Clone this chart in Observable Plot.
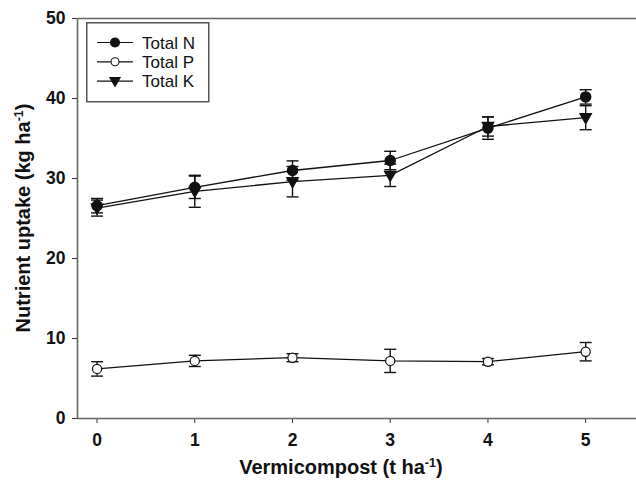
<!DOCTYPE html>
<html>
<head>
<meta charset="utf-8">
<script src="https://cdn.jsdelivr.net/npm/d3@7"></script>
<script src="https://cdn.jsdelivr.net/npm/@observablehq/plot@0.6"></script>
<style>
  html, body { margin: 0; padding: 0; background: #fff; }
  #wrap { position: relative; width: 636px; height: 480px; }
  #wrap svg text { font-family: "Liberation Sans", Arial, Helvetica, sans-serif; }
  g[aria-label$="tick label"] text { font-weight: bold; }
  #legend { position: absolute; left: 86px; top: 22px; }
</style>
</head>
<body>
<div id="wrap"></div>
<script>
// ---- data ----
const doses = [0, 1, 2, 3, 4, 5];
const nMean = [26.6, 28.9, 31.0, 32.25, 36.3, 40.2];
const nErr  = [0.9, 1.4, 1.2, 1.15, 1.4, 0.9];
const pMean = [6.2, 7.2, 7.6, 7.2, 7.1, 8.35];
const pErr  = [0.9, 0.7, 0.5, 1.45, 0.4, 1.15];
const kMean = [26.3, 28.4, 29.6, 30.4, 36.5, 37.6];
const kErr  = [1.0, 2.0, 1.9, 1.4, 1.2, 1.5];
const seriesNames = ["Total N", "Total P", "Total K"];
const xTicks = [0, 1, 2, 3, 4, 5];
const yTicks = [0, 10, 20, 30, 40, 50];
const xDomain = [-0.2, 5.52];
const yDomain = [0, 50];

// ---- build table ----
const means = [nMean, pMean, kMean];
const errs = [nErr, pErr, kErr];
const rows = [];
seriesNames.forEach((s, i) => doses.forEach((d, j) => rows.push({
  series: s, x: d, y: means[i][j], lo: means[i][j] - errs[i][j], hi: means[i][j] + errs[i][j]
})));
const bySeries = s => rows.filter(r => r.series === s);

// custom symbols
const triDown = { draw(ctx, size) { const s = Math.sqrt(size / Math.PI);
  ctx.moveTo(-s * 1.2, -s * 0.85); ctx.lineTo(s * 1.2, -s * 0.85); ctx.lineTo(0, s * 1.25); ctx.closePath(); } };
const capSym = { draw(ctx, size) { const s = Math.sqrt(size / Math.PI);
  ctx.moveTo(-s, 0); ctx.lineTo(s, 0); } };

const ink = "#111";
const plot = Plot.plot({
  width: 636, height: 480,
  marginLeft: 77, marginRight: 0, marginTop: 18, marginBottom: 62,
  style: { fontFamily: "Liberation Sans, Arial, sans-serif", fontSize: "17px", color: "#111", background: "#fff" },
  x: { domain: xDomain, label: null },
  y: { domain: yDomain, label: null },
  marks: [
    Plot.axisX({ ticks: xTicks, tickSize: 5, tickPadding: 10.5, tickFormat: d => d, stroke: "#333", fontSize: 17.5 }),
    Plot.axisY({ ticks: yTicks, tickSize: 5, tickPadding: 7, tickFormat: d => d, stroke: "#333", fontSize: 17.5 }),
    Plot.ruleY([yDomain[0], yDomain[1]], { stroke: "#666", strokeWidth: 1.6 }),
    Plot.ruleX([xDomain[0]], { stroke: "#666", strokeWidth: 1.6 }),
    // error bars
    Plot.ruleX(rows, { x: "x", y1: "lo", y2: "hi", stroke: ink, strokeWidth: 1.4 }),
    Plot.dot(rows, { x: "x", y: "lo", symbol: capSym, r: 6, stroke: ink, fill: "none", strokeWidth: 1.4 }),
    Plot.dot(rows, { x: "x", y: "hi", symbol: capSym, r: 6, stroke: ink, fill: "none", strokeWidth: 1.4 }),
    // lines
    Plot.line(bySeries("Total N"), { x: "x", y: "y", stroke: ink, strokeWidth: 1.3 }),
    Plot.line(bySeries("Total K"), { x: "x", y: "y", stroke: ink, strokeWidth: 1.3 }),
    Plot.line(bySeries("Total P"), { x: "x", y: "y", stroke: ink, strokeWidth: 1.3 }),
    // markers
    Plot.dot(bySeries("Total N"), { x: "x", y: "y", r: 5, fill: ink, stroke: ink }),
    Plot.dot(bySeries("Total K"), { x: "x", y: "y", r: 4.6, symbol: triDown, fill: ink, stroke: ink }),
    Plot.dot(bySeries("Total P"), { x: "x", y: "y", r: 4.6, fill: "#fff", stroke: ink, strokeWidth: 1.2 })
  ]
});

// axis titles with superscripts
const svg = d3.select(plot);
const sx = plot.scale("x"), sy = plot.scale("y");
const xt = svg.append("text")
  .attr("x", sx.apply(2.5)).attr("y", 474)
  .attr("text-anchor", "middle").attr("font-weight", "bold").attr("font-size", 20).attr("fill", "#111");
xt.append("tspan").text("Vermicompost (t ha");
xt.append("tspan").attr("font-size", 12.5).attr("dy", -7.5).text("-1");
xt.append("tspan").attr("dy", 7.5).text(")");

const yt = svg.append("text")
  .attr("transform", `translate(30,${sy.apply(25)}) rotate(-90)`)
  .attr("text-anchor", "middle").attr("font-weight", "bold").attr("font-size", 20).attr("fill", "#111");
yt.append("tspan").text("Nutrient uptake (kg ha");
yt.append("tspan").attr("font-size", 12.5).attr("dy", -7.5).text("-1");
yt.append("tspan").attr("dy", 7.5).text(")");

document.getElementById("wrap").appendChild(plot);

// legend (overlay)
const leg = d3.select("#wrap").append("svg").attr("id", "legend")
  .attr("width", 124).attr("height", 81);
leg.append("rect").attr("x", 0.75).attr("y", 0.75).attr("width", 122).attr("height", 79)
  .attr("fill", "#fff").attr("stroke", "#555").attr("stroke-width", 1.5);
const symPaths = {
  "Total N": d3.symbol(d3.symbolCircle, Math.PI * 4.5 * 4.5)(),
  "Total P": d3.symbol(d3.symbolCircle, Math.PI * 4 * 4)(),
  "Total K": d3.symbol(triDown, Math.PI * 4.3 * 4.3)()
};
seriesNames.forEach((s, i) => {
  const g = leg.append("g").attr("transform", `translate(0,${20.5 + i * 19.3})`);
  g.append("line").attr("x1", 11).attr("x2", 47).attr("stroke", ink).attr("stroke-width", 1.2);
  g.append("path").attr("transform", "translate(29,0)").attr("d", symPaths[s])
    .attr("fill", s === "Total P" ? "#fff" : ink).attr("stroke", ink).attr("stroke-width", 1.1);
  g.append("text").attr("x", 56).attr("y", 6).attr("font-size", 17).attr("fill", "#111").text(s);
});
</script>
</body>
</html>
